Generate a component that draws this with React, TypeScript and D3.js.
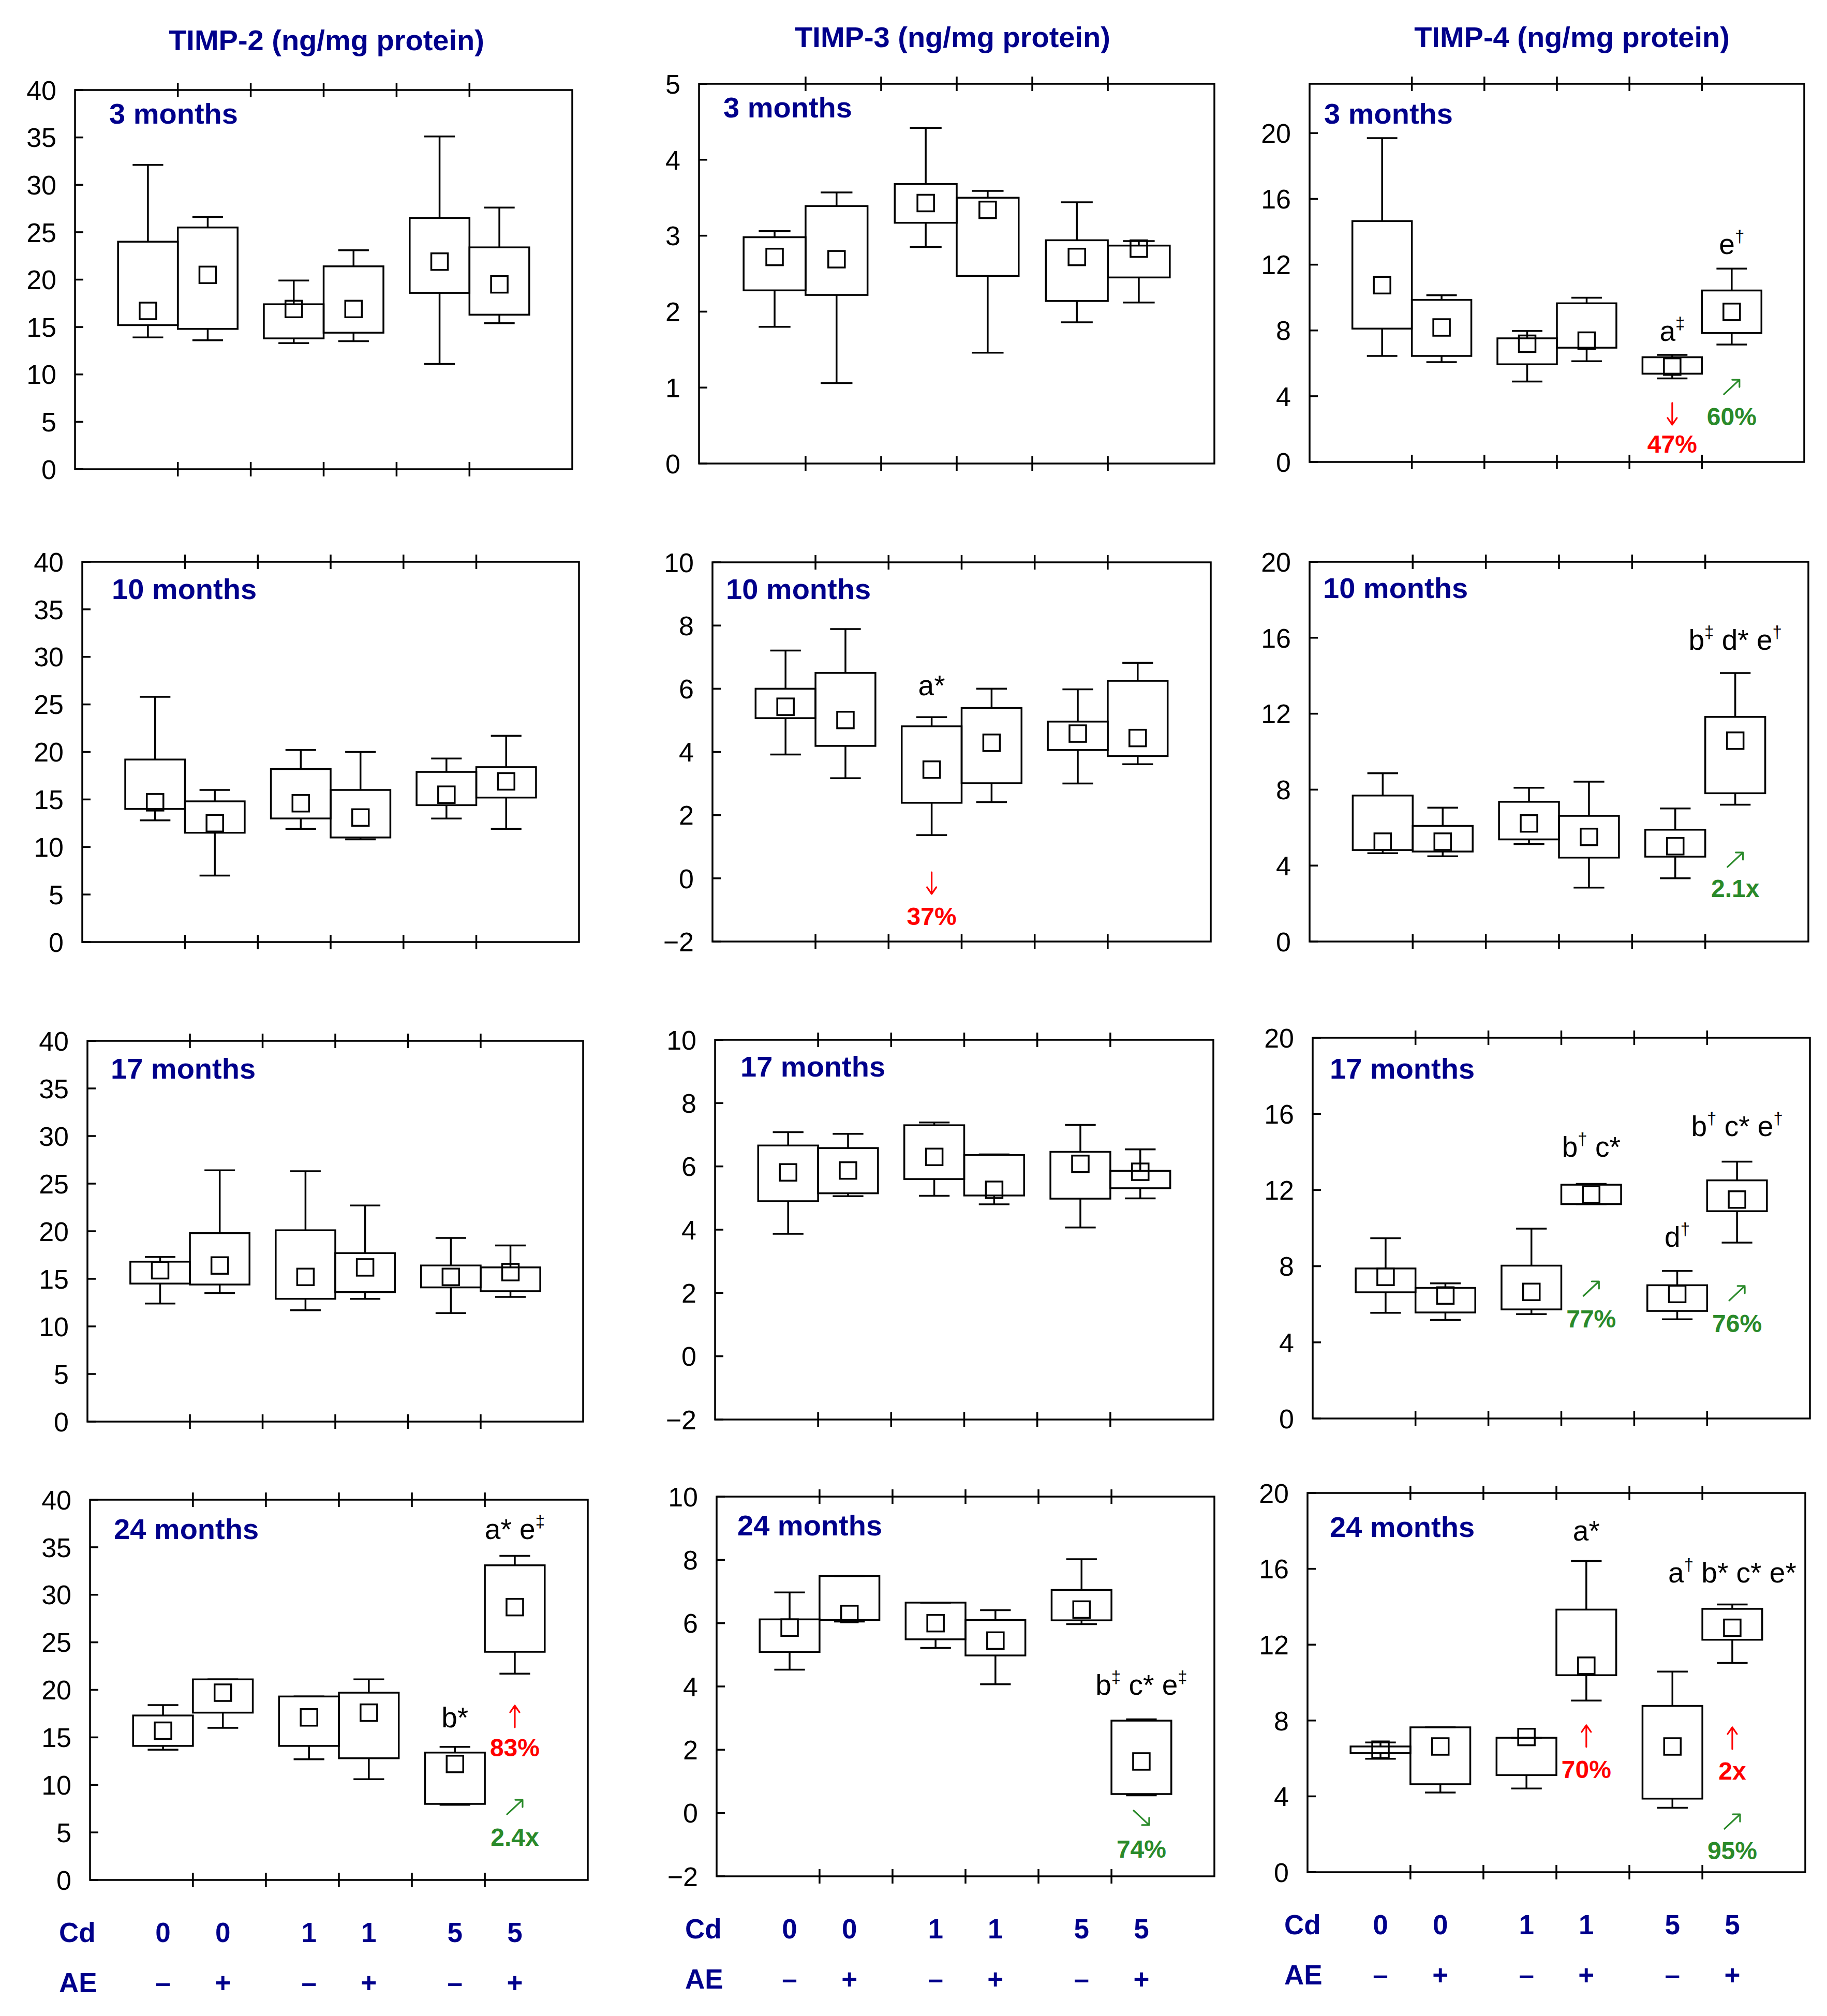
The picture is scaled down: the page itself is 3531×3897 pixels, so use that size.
import React from 'react';
import * as d3 from 'd3';

// ---------- categories / labels ----------
const cdLevels = ['0', '0', '1', '1', '5', '5'];
const aeLevels = ['\u2013', '+', '\u2013', '+', '\u2013', '+'];
const proteinTitles = ['TIMP-2 (ng/mg protein)', 'TIMP-3 (ng/mg protein)', 'TIMP-4 (ng/mg protein)'];
const ageLabels = ['3 months', '10 months', '17 months', '24 months'];

// ---------- data: each box = [lowerWhisker, q1, mean, q3, upperWhisker] ----------
const timp2M3 = [[13.9, 15.2, 16.7, 24.0, 32.1], [13.6, 14.8, 20.5, 25.5, 26.6], [13.3, 13.8, 16.9, 17.4, 19.9], [13.5, 14.4, 16.9, 21.4, 23.1], [11.1, 18.6, 21.9, 26.5, 35.1], [15.4, 16.3, 19.5, 23.4, 27.6]];
const timp3M3 = [[1.80, 2.28, 2.72, 2.98, 3.06], [1.06, 2.22, 2.69, 3.39, 3.57], [2.85, 3.17, 3.43, 3.68, 4.42], [1.46, 2.47, 3.34, 3.50, 3.59], [1.86, 2.14, 2.72, 2.94, 3.44], [2.12, 2.45, 2.83, 2.87, 2.93]];
const timp4M3 = [[6.45, 8.11, 10.75, 14.65, 19.70], [6.07, 6.45, 8.18, 9.86, 10.14], [4.89, 5.94, 7.19, 7.52, 7.97], [6.13, 6.95, 7.38, 9.65, 9.99], [5.08, 5.37, 5.80, 6.37, 6.51], [7.14, 7.84, 9.13, 10.43, 11.76]];
const timp2M10 = [[12.8, 14.0, 14.7, 19.2, 25.8], [7.0, 11.5, 12.5, 14.8, 16.0], [11.9, 13.0, 14.6, 18.2, 20.2], [10.8, 11.0, 13.1, 16.0, 20.0], [13.0, 14.4, 15.5, 17.9, 19.3], [11.9, 15.2, 16.9, 18.4, 21.7]];
const timp3M10 = [[3.92, 5.07, 5.43, 6.00, 7.21], [3.17, 4.19, 5.01, 6.50, 7.89], [1.37, 2.39, 3.44, 4.81, 5.10], [2.41, 3.01, 4.29, 5.39, 6.00], [3.00, 4.06, 4.58, 4.96, 5.98], [3.61, 3.87, 4.44, 6.25, 6.82]];
const timp4M10 = [[4.65, 4.82, 5.26, 7.69, 8.86], [4.49, 4.74, 5.26, 6.09, 7.05], [5.13, 5.38, 6.22, 7.36, 8.10], [2.84, 4.42, 5.51, 6.62, 8.42], [3.33, 4.47, 5.02, 5.89, 7.01], [7.21, 7.81, 10.58, 11.83, 14.14]];
const timp2M17 = [[12.4, 14.5, 15.9, 16.8, 17.3], [13.5, 14.4, 16.4, 19.8, 26.4], [11.7, 12.9, 15.2, 20.1, 26.3], [12.9, 13.6, 16.2, 17.7, 22.7], [11.4, 14.1, 15.2, 16.4, 19.3], [13.1, 13.7, 15.7, 16.2, 18.5]];
const timp3M17 = [[3.87, 4.90, 5.81, 6.66, 7.08], [5.06, 5.15, 5.87, 6.58, 7.03], [5.07, 5.60, 6.30, 7.30, 7.39], [4.80, 5.08, 5.26, 6.36, 6.38], [4.07, 4.98, 6.08, 6.46, 7.31], [4.99, 5.31, 5.83, 5.86, 6.54]];
const timp4M17 = [[5.55, 6.63, 7.44, 7.88, 9.47], [5.18, 5.57, 6.46, 6.86, 7.10], [5.48, 5.73, 6.65, 8.03, 9.97], [11.26, 11.26, 11.76, 12.28, 12.32], [5.21, 5.65, 6.54, 7.00, 7.75], [9.24, 10.89, 11.50, 12.51, 13.49]];
const timp2M24 = [[13.7, 14.1, 15.7, 17.3, 18.4], [16.0, 17.6, 19.7, 21.1, 21.1], [12.7, 14.1, 17.1, 19.3, 19.3], [10.6, 12.8, 17.6, 19.7, 21.1], [7.9, 8.0, 12.2, 13.4, 14.0], [21.7, 24.0, 28.7, 33.1, 34.1]];
const timp3M24 = [[4.53, 5.09, 5.86, 6.12, 6.97], [6.05, 6.10, 6.29, 7.49, 7.49], [5.22, 5.49, 6.00, 6.65, 6.65], [4.07, 4.98, 5.45, 6.10, 6.41], [5.97, 6.09, 6.43, 7.05, 8.02], [0.56, 0.60, 1.63, 2.92, 2.96]];
const timp4M24 = [[5.98, 6.28, 6.46, 6.63, 6.84], [4.20, 4.64, 6.63, 7.64, 7.64], [4.41, 5.12, 7.13, 7.09, 7.09], [9.05, 10.39, 10.89, 13.85, 16.41], [3.40, 3.88, 6.63, 8.77, 10.58], [11.04, 12.26, 12.89, 13.89, 14.12]];

// significance labels: [row, col, box, value, text]
const sigLabels: [number, number, number, number, string][] = [
  [0, 2, 4, 7.36, 'a\u2021'],
  [0, 2, 5, 12.65, 'e\u2020'],
  [1, 1, 2, 5.79, 'a*'],
  [1, 2, 5, 15.37, 'b\u2021 d* e\u2020'],
  [2, 2, 3, 13.75, 'b\u2020 c*'],
  [2, 2, 4, 9.02, 'd\u2020'],
  [2, 2, 5, 14.84, 'b\u2020 c* e\u2020'],
  [3, 0, 5, 35.86, 'a* e\u2021'],
  [3, 0, 4, 16.05, 'b*'],
  [3, 1, 5, 3.74, 'b\u2021 c* e\u2021'],
  [3, 2, 3, 17.49, 'a*'],
  [3, 2, 5, 15.28, 'a\u2020 b* c* e*'],
];
// Cd effect (red): [row, col, box, arrowValue, textValue, direction, text]
const cdEffects: [number, number, number, number, number, string, string][] = [
  [0, 2, 4, 2.93, 0.57, 'down', '47%'],
  [1, 1, 2, -0.15, -1.48, 'down', '37%'],
  [3, 0, 5, 17.2, 13.0, 'up', '83%'],
  [3, 2, 3, 7.18, 4.97, 'up', '70%'],
  [3, 2, 5, 7.07, 4.88, 'up', '2x'],
];
// AE effect (green)
const aeEffects: [number, number, number, number, number, string, string][] = [
  [0, 2, 5, 4.56, 2.23, 'upright', '60%'],
  [1, 2, 5, 4.31, 2.34, 'upright', '2.1x'],
  [2, 2, 3, 6.82, 4.78, 'upright', '77%'],
  [2, 2, 5, 6.58, 4.54, 'upright', '76%'],
  [3, 0, 5, 7.67, 3.59, 'upright', '2.4x'],
  [3, 1, 5, -0.15, -1.41, 'downright', '74%'],
  [3, 2, 5, 2.67, 0.68, 'upright', '95%'],
];

const grid = [
  [timp2M3, timp3M3, timp4M3],
  [timp2M10, timp3M10, timp4M10],
  [timp2M17, timp3M17, timp4M17],
  [timp2M24, timp3M24, timp4M24],
];

// ---------- layout ----------
const W = 3531;
const H = 3897;
const panelRects = [
  [[145, 174, 1106, 907], [1351, 162, 2347, 896], [2531, 162, 3487, 893]],
  [[159, 1086, 1119, 1821], [1377, 1087, 2340, 1820], [2531, 1086, 3495, 1820]],
  [[169, 2012, 1127, 2748], [1382, 2010, 2345, 2744], [2537, 2006, 3498, 2742]],
  [[174, 2899, 1136, 3634], [1385, 2893, 2347, 3627], [2527, 2886, 3489, 3619]],
];
const monthOffsets = [
  [[66, 65], [47, 65], [28, 77]],
  [[57, 72], [26, 71], [26, 70]],
  [[45, 73], [49, 71], [33, 79]],
  [[46, 76], [40, 75], [43, 85]],
];
const titleX = [631, 1841, 3038];
const titleY = [97, 91, 91];
const cdLabelX = [114, 1324, 2482];
const boxPos = [1.59, 2.41, 3.59, 4.41, 5.59, 6.41];
const xTicks = [2, 3, 4, 5, 6];
const BOX_W = 0.82;
const CAP_HALF = 0.21;

const NAVY = '#00008b';
const RED = '#ff0000';
const GREEN = '#2a8a2a';
const FONT = '"Liberation Sans", Arial, Helvetica, sans-serif';
const SW = 3.5;

function yAxisFor(row: number, col: number) {
  if (col === 0) return { domain: [0, 40], ticks: d3.range(0, 41, 5) };
  if (col === 1) return row === 0 ? { domain: [0, 5], ticks: d3.range(0, 6, 1) } : { domain: [-2, 10], ticks: d3.range(-2, 11, 2) };
  return row === 0 ? { domain: [0, 23], ticks: d3.range(0, 21, 4) } : { domain: [0, 20], ticks: d3.range(0, 21, 4) };
}

const fmt = d3.format('d');

function SigText({ x, y, text }: { x: number; y: number; text: string }) {
  const fs = 55;
  const rise = fs * 0.42;
  const parts: any[] = [];
  let raised = false;
  Array.from(text).forEach((ch, i) => {
    if (ch === '\u2020' || ch === '\u2021') {
      parts.push(<tspan key={i} fontSize={fs * 0.6} dy={-rise}>{ch}</tspan>);
      raised = true;
    } else {
      parts.push(<tspan key={i} dy={raised ? rise : 0}>{ch}</tspan>);
      raised = false;
    }
  });
  return (
    <text x={x} y={y} textAnchor="middle" fontSize={fs} fill="#000" style={{ whiteSpace: 'pre' }}>
      {parts}
    </text>
  );
}

function Arrow({ cx, cy, dir, color }: { cx: number; cy: number; dir: string; color: string }) {
  let d = '';
  if (dir === 'down') {
    const t = cy - 21, b = cy + 21;
    d = `M${cx},${t}L${cx},${b}M${cx - 9},${b - 13}L${cx},${b}L${cx + 9},${b - 13}`;
  } else if (dir === 'up') {
    const t = cy - 21, b = cy + 21;
    d = `M${cx},${b}L${cx},${t}M${cx - 9},${t + 13}L${cx},${t}L${cx + 9},${t + 13}`;
  } else if (dir === 'upright') {
    const x0 = cx - 15, y0 = cy + 14, x1 = cx + 15, y1 = cy - 14;
    d = `M${x0},${y0}L${x1},${y1}M${x1 - 14},${y1}L${x1},${y1}L${x1},${y1 + 14}`;
  } else {
    const x0 = cx - 15, y0 = cy - 14, x1 = cx + 15, y1 = cy + 14;
    d = `M${x0},${y0}L${x1},${y1}M${x1 - 14},${y1}L${x1},${y1}L${x1},${y1 - 14}`;
  }
  return <path d={d} fill="none" stroke={color} strokeWidth={3.2} strokeLinecap="round" strokeLinejoin="round" />;
}

function Panel({ row, col }: { row: number; col: number }) {
  const [x0, y0, x1, y1] = panelRects[row][col];
  const ax = yAxisFor(row, col);
  const x = d3.scaleLinear().domain([0.59, 7.41]).range([x0, x1]);
  const y = d3.scaleLinear().domain(ax.domain).range([y1, y0]);
  const data = grid[row][col];
  const [mdx, mdy] = monthOffsets[row][col];
  const bw = x(BOX_W) - x(0);
  const cw = x(CAP_HALF) - x(0);
  const ms = 32;

  const sig = sigLabels.filter((s) => s[0] === row && s[1] === col);
  const cds = cdEffects.filter((s) => s[0] === row && s[1] === col);
  const aes = aeEffects.filter((s) => s[0] === row && s[1] === col);

  return (
    <g>
      {/* y ticks + labels */}
      {ax.ticks.map((t) => (
        <g key={'yt' + t}>
          <line x1={x0} x2={x0 + 16} y1={y(t)} y2={y(t)} stroke="#000" strokeWidth={SW} />
          <text x={x0 - 36} y={y(t)} dy="0.36em" textAnchor="end" fontSize={52} fill="#000">
            {fmt(t)}
          </text>
        </g>
      ))}
      {/* x ticks top & bottom */}
      {xTicks.map((t) => (
        <g key={'xt' + t}>
          <line x1={x(t)} x2={x(t)} y1={y0 - 14} y2={y0 + 14} stroke="#000" strokeWidth={SW} />
          <line x1={x(t)} x2={x(t)} y1={y1 - 14} y2={y1 + 14} stroke="#000" strokeWidth={SW} />
        </g>
      ))}
      {/* boxes */}
      {data.map((b, i) => {
        const [lo, q1, mean, q3, hi] = b;
        const cx = x(boxPos[i]);
        return (
          <g key={'b' + i} fill="none" stroke="#000" strokeWidth={SW}>
            <line x1={cx} x2={cx} y1={y(q3)} y2={y(hi)} />
            <line x1={cx} x2={cx} y1={y(q1)} y2={y(lo)} />
            <line x1={cx - cw} x2={cx + cw} y1={y(hi)} y2={y(hi)} />
            <line x1={cx - cw} x2={cx + cw} y1={y(lo)} y2={y(lo)} />
            <rect x={cx - bw / 2} y={y(q3)} width={bw} height={Math.max(0.5, y(q1) - y(q3))} />
            <rect x={cx - ms / 2} y={y(mean) - ms / 2} width={ms} height={ms} />
          </g>
        );
      })}
      {/* frame */}
      <rect x={x0} y={y0} width={x1 - x0} height={y1 - y0} fill="none" stroke="#000" strokeWidth={SW} />
      {/* age label */}
      <text x={x0 + mdx} y={y0 + mdy} fontSize={56} fontWeight="bold" fill={NAVY}>
        {ageLabels[row]}
      </text>
      {/* annotations */}
      {sig.map((s, i) => (
        <SigText key={'s' + i} x={x(boxPos[s[2]])} y={y(s[3])} text={s[4]} />
      ))}
      {cds.map((s, i) => (
        <g key={'c' + i}>
          <Arrow cx={x(boxPos[s[2]])} cy={y(s[3])} dir={s[5]} color={RED} />
          <text x={x(boxPos[s[2]])} y={y(s[4])} textAnchor="middle" fontSize={48} fontWeight="bold" fill={RED}>
            {s[6]}
          </text>
        </g>
      ))}
      {aes.map((s, i) => (
        <g key={'a' + i}>
          <Arrow cx={x(boxPos[s[2]])} cy={y(s[3])} dir={s[5]} color={GREEN} />
          <text x={x(boxPos[s[2]])} y={y(s[4])} textAnchor="middle" fontSize={48} fontWeight="bold" fill={GREEN}>
            {s[6]}
          </text>
        </g>
      ))}
      {/* group labels under bottom row */}
      {row === 3 && (
        <g fontWeight="bold" fill={NAVY} fontSize={53}>
          <text x={cdLabelX[col]} y={y1 + 120}>Cd</text>
          <text x={cdLabelX[col]} y={y1 + 217}>AE</text>
          {cdLevels.map((c, i) => (
            <text key={'cd' + i} x={x(boxPos[i])} y={y1 + 120} textAnchor="middle">
              {c}
            </text>
          ))}
          {aeLevels.map((c, i) => (
            <text key={'ae' + i} x={x(boxPos[i])} y={y1 + 217} textAnchor="middle">
              {c}
            </text>
          ))}
        </g>
      )}
    </g>
  );
}

export default function App() {
  const rows = [0, 1, 2, 3];
  const cols = [0, 1, 2];
  return (
    <svg
      width={W}
      height={H}
      viewBox={`0 0 ${W} ${H}`}
      style={{ position: 'absolute', left: 0, top: 0, display: 'block', background: '#fff' }}
      fontFamily={FONT}
    >
      <rect width={W} height={H} fill="#fff" />
      {proteinTitles.map((t, i) => (
        <text key={t} x={titleX[i]} y={titleY[i]} textAnchor="middle" fontSize={56} fontWeight="bold" fill={NAVY}>
          {t}
        </text>
      ))}
      {rows.map((r) => cols.map((c) => <Panel key={r + '-' + c} row={r} col={c} />))}
    </svg>
  );
}
